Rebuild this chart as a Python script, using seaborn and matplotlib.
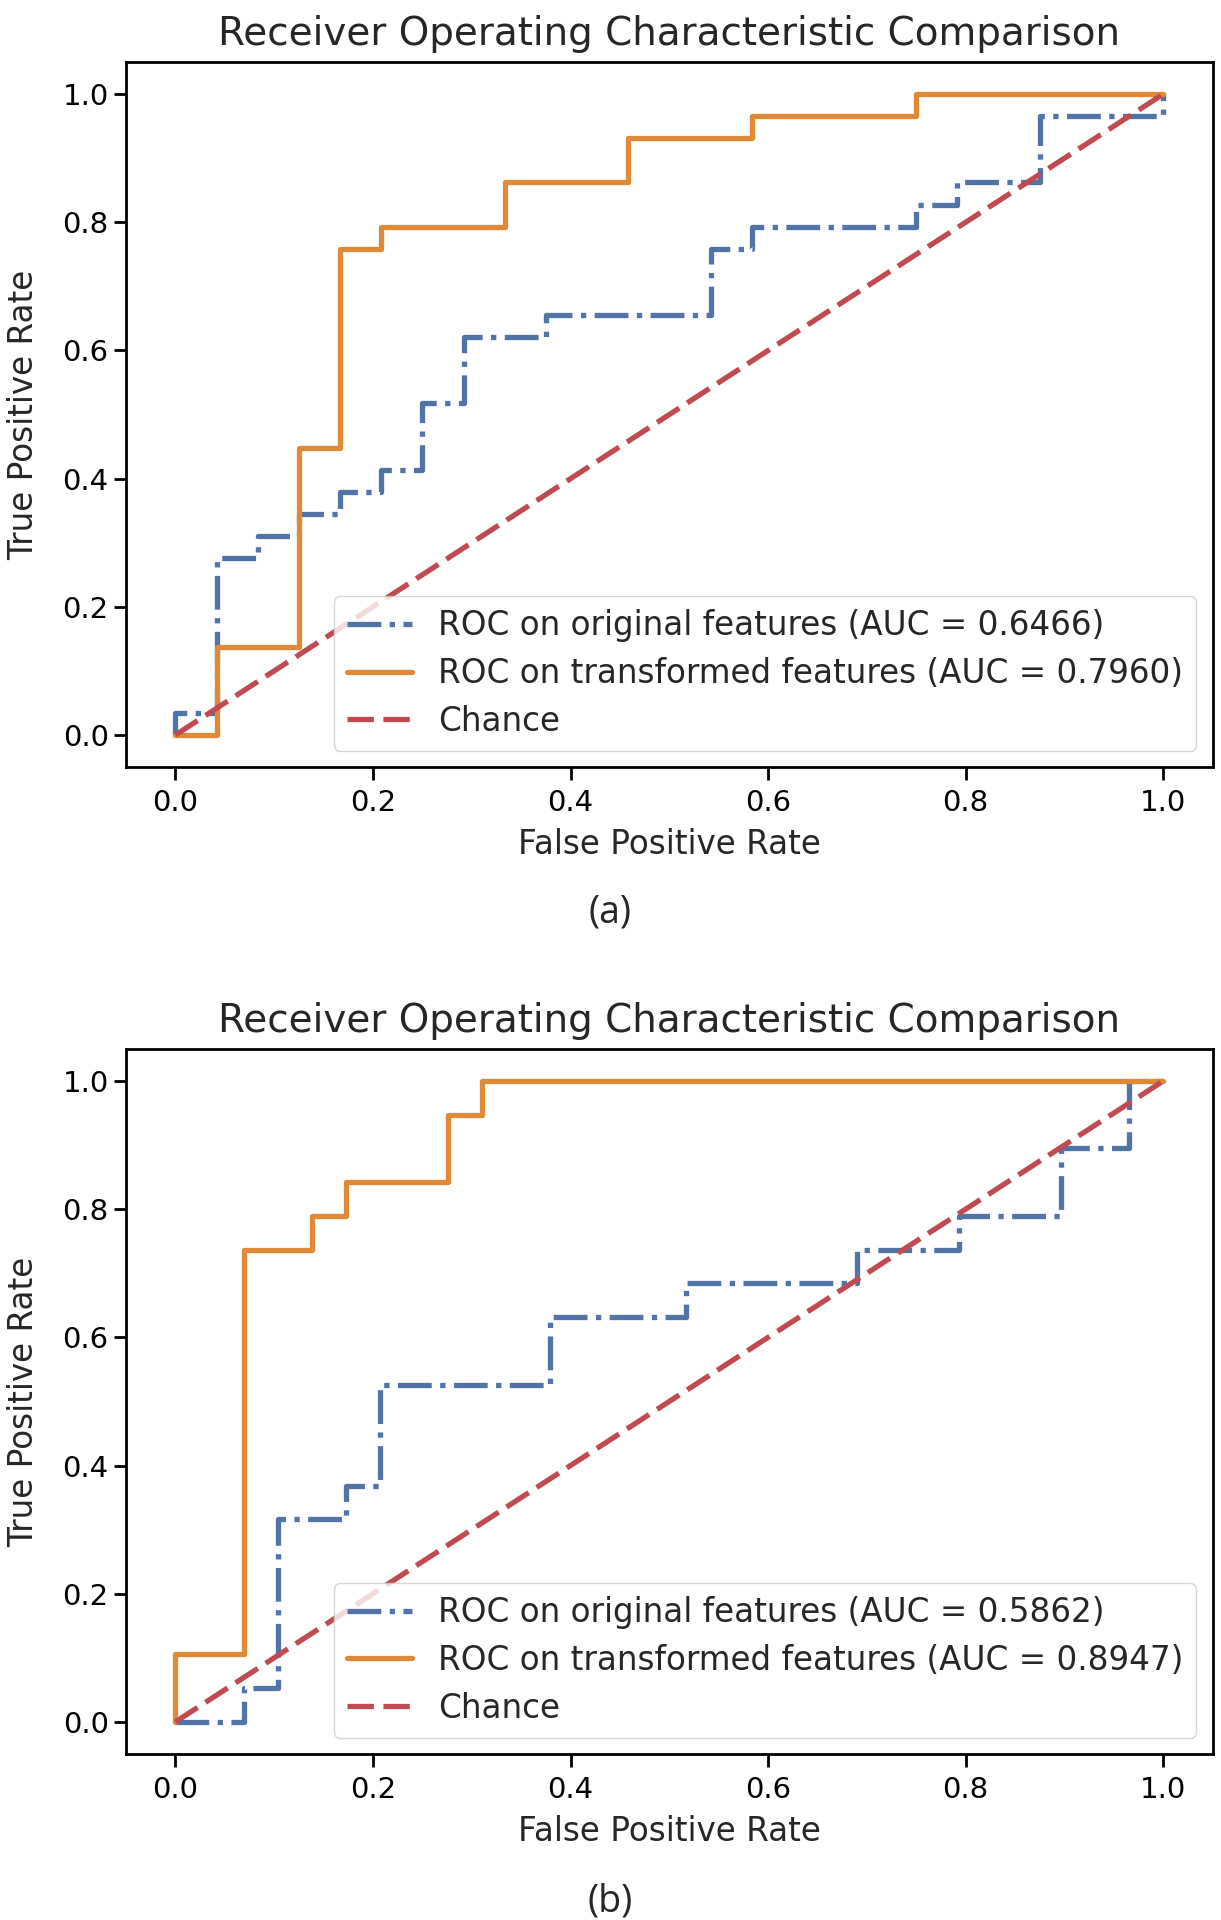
import numpy as np
import pandas as pd
import matplotlib
matplotlib.use("Agg")
import matplotlib.pyplot as plt
import seaborn as sns

# ------------------------------------------------
# ROC corner points, read off the picture as counts
# (false positives / true positives at each step)
# ------------------------------------------------
n_neg_a, n_pos_a = 24, 29
fp_orig_a = [0, 0, 1, 1, 2, 2, 3, 3, 4, 4, 5, 5, 6, 6, 7, 7, 9, 9, 13, 13, 14, 14, 18, 18, 19, 19, 21, 21, 24, 24]
tp_orig_a = [0, 1, 1, 8, 8, 9, 9, 10, 10, 11, 11, 12, 12, 15, 15, 18, 18, 19, 19, 22, 22, 23, 23, 24, 24, 25, 25, 28, 28, 29]
fp_trans_a = [0, 1, 1, 3, 3, 4, 4, 5, 5, 8, 8, 11, 11, 14, 14, 18, 18, 24]
tp_trans_a = [0, 0, 4, 4, 13, 13, 22, 22, 23, 23, 25, 25, 27, 27, 28, 28, 29, 29]
auc_orig_a, auc_trans_a = 0.6466, 0.7960

n_neg_b, n_pos_b = 29, 19
fp_orig_b = [0, 2, 2, 3, 3, 5, 5, 6, 6, 11, 11, 15, 15, 20, 20, 23, 23, 26, 26, 28, 28, 29]
tp_orig_b = [0, 0, 1, 1, 6, 6, 7, 7, 10, 10, 12, 12, 13, 13, 14, 14, 15, 15, 17, 17, 19, 19]
fp_trans_b = [0, 0, 2, 2, 4, 4, 5, 5, 8, 8, 9, 9, 29]
tp_trans_b = [0, 2, 2, 14, 14, 15, 15, 16, 16, 18, 18, 19, 19]
auc_orig_b, auc_trans_b = 0.5862, 0.8947

chance = [0, 1]

panels = [
    ("(a)", n_neg_a, n_pos_a, fp_orig_a, tp_orig_a, fp_trans_a, tp_trans_a, auc_orig_a, auc_trans_a),
    ("(b)", n_neg_b, n_pos_b, fp_orig_b, tp_orig_b, fp_trans_b, tp_trans_b, auc_orig_b, auc_trans_b),
]

# ------------------------------------------------
# STYLE
# ------------------------------------------------
sns.set_style("ticks")
plt.rcParams["font.family"] = ["DejaVu Sans"]
plt.rcParams["axes.edgecolor"] = "black"
plt.rcParams["axes.linewidth"] = 2.0
plt.rcParams["xtick.color"] = "black"
plt.rcParams["ytick.color"] = "black"
plt.rcParams["xtick.major.width"] = 2.0
plt.rcParams["ytick.major.width"] = 2.0
plt.rcParams["xtick.major.size"] = 9
plt.rcParams["ytick.major.size"] = 9
plt.rcParams["xtick.major.pad"] = 7

c_orig, c_trans, c_chance = "#5073a8", "#e08a38", "#c04a50"
lw = 3.8
fs_tick = 21
fs_lab = 23.5

fig = plt.figure(figsize=(12.21, 19.2), dpi=100)
axes_pos = [[0.1032, 0.6005, 0.890, 0.3672], [0.1032, 0.0865, 0.890, 0.3672]]
caption_y = [0.525, 0.0095]

for (tag, n_neg, n_pos, fp_o, tp_o, fp_t, tp_t, auc_o, auc_t), pos, cy in zip(panels, axes_pos, caption_y):
    ax = fig.add_axes(pos)
    df_o = pd.DataFrame({"fpr": np.array(fp_o) / n_neg, "tpr": np.array(tp_o) / n_pos})
    df_t = pd.DataFrame({"fpr": np.array(fp_t) / n_neg, "tpr": np.array(tp_t) / n_pos})

    sns.lineplot(data=df_o, x="fpr", y="tpr", estimator=None, sort=False, ax=ax,
                 color=c_orig, lw=lw, linestyle="-.",
                 label=f"ROC on original features (AUC = {auc_o:.4f})")
    sns.lineplot(data=df_t, x="fpr", y="tpr", estimator=None, sort=False, ax=ax,
                 color=c_trans, lw=lw,
                 label=f"ROC on transformed features (AUC = {auc_t:.4f})")
    sns.lineplot(x=chance, y=chance, estimator=None, sort=False, ax=ax,
                 color=c_chance, lw=lw, label="Chance")
    ax.lines[-1].set_dashes((5.0, 1.8))

    ax.set_xlim(-0.05, 1.05)
    ax.set_ylim(-0.05, 1.05)
    ax.set_xticks([0.0, 0.2, 0.4, 0.6, 0.8, 1.0])
    ax.set_yticks([0.0, 0.2, 0.4, 0.6, 0.8, 1.0])
    ax.set_xticklabels(["0.0", "0.2", "0.4", "0.6", "0.8", "1.0"])
    ax.set_yticklabels(["0.0", "0.2", "0.4", "0.6", "0.8", "1.0"])
    ax.tick_params(labelsize=fs_tick)
    ax.set_xlabel("False Positive Rate", fontsize=fs_lab, labelpad=8)
    ax.set_ylabel("True Positive Rate", fontsize=fs_lab, labelpad=16)
    ax.set_title("Receiver Operating Characteristic Comparison", fontsize=28, pad=12)
    for s in ax.spines.values():
        s.set_visible(True)
    leg = ax.legend(loc="lower right", fontsize=fs_lab, frameon=True, handlelength=2.0,
                    labelspacing=0.45)
    for line in leg.get_lines():
        line.set_linewidth(lw)

    fig.text(0.5, cy, tag, ha="center", va="center", fontsize=27, family=["Open Sans", "DejaVu Sans"])

fig.savefig("out.png", dpi=100)
